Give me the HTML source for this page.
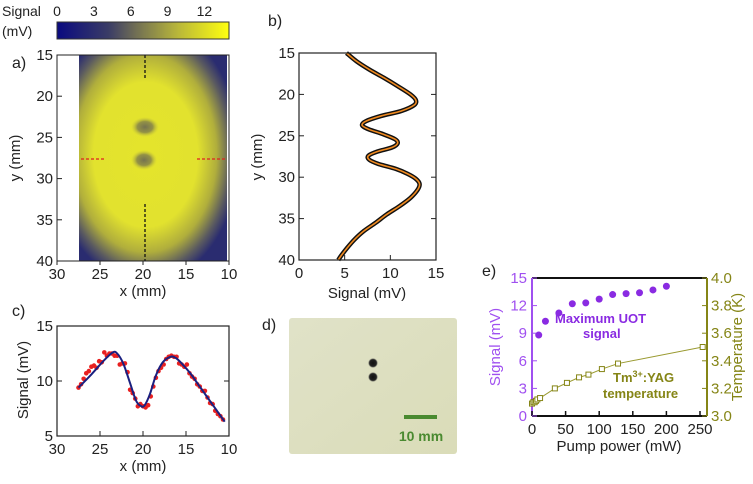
<!DOCTYPE html>
<html><head><meta charset="utf-8"><style>
body{margin:0;background:#fff;width:753px;height:479px;overflow:hidden;font-family:"Liberation Sans",sans-serif}
svg text{font-family:"Liberation Sans",sans-serif}
</style></head><body>
<svg id="fig" width="753" height="479" viewBox="0 0 753 479" xmlns="http://www.w3.org/2000/svg">
<defs>
<linearGradient id="cbar" x1="0" x2="1" y1="0" y2="0">
<stop offset="0" stop-color="#0a0a80"/><stop offset="0.3" stop-color="#3a3c66"/><stop offset="0.45" stop-color="#6e6c55"/><stop offset="0.7" stop-color="#b8b63a"/><stop offset="1" stop-color="#ffff10"/>
</linearGradient>
<radialGradient id="hm" cx="0.45" cy="0.47" r="0.64" fx="0.45" fy="0.5">
<stop offset="0" stop-color="#e4e42c"/><stop offset="0.55" stop-color="#e2e22e"/><stop offset="0.75" stop-color="#b0ae3c"/><stop offset="0.9" stop-color="#5a5a60"/><stop offset="1" stop-color="#2a2c70"/>
</radialGradient>
<radialGradient id="blob"><stop offset="0" stop-color="#747250"/><stop offset="0.55" stop-color="#85834a" stop-opacity="0.85"/><stop offset="1" stop-color="#c8c638" stop-opacity="0"/></radialGradient>
<radialGradient id="dot"><stop offset="0" stop-color="#111"/><stop offset="0.7" stop-color="#222"/><stop offset="1" stop-color="#555" stop-opacity="0"/></radialGradient>
<linearGradient id="photo" x1="0" y1="0" x2="1" y2="1"><stop offset="0" stop-color="#e0e2c8"/><stop offset="1" stop-color="#dadcb8"/></linearGradient>
</defs>

<g>
<text x="2" y="16" font-size="14" fill="#222">Signal</text>
<text x="2" y="36" font-size="14" fill="#222">(mV)</text>
<rect x="57" y="22" width="172" height="17" fill="url(#cbar)" stroke="#333" stroke-width="1"/>
<g id="cbticks" font-size="14" fill="#222" text-anchor="middle"></g>
</g>

<g>
<text x="12" y="68" font-size="16" fill="#222">a)</text>
<rect x="79" y="55" width="148" height="206" fill="url(#hm)"/>
<ellipse cx="145" cy="127" rx="14" ry="10" fill="url(#blob)"/>
<ellipse cx="144" cy="160" rx="13" ry="10" fill="url(#blob)"/>
<line x1="145" y1="55" x2="145" y2="79" stroke="#111" stroke-dasharray="3,2" stroke-width="1.3"/>
<line x1="145" y1="204" x2="145" y2="261" stroke="#111" stroke-dasharray="3,2" stroke-width="1.3"/>
<line x1="81" y1="159" x2="106" y2="159" stroke="#e02020" stroke-dasharray="3,2" stroke-width="1.3"/>
<line x1="197" y1="159" x2="226" y2="159" stroke="#e02020" stroke-dasharray="3,2" stroke-width="1.3"/>
<rect x="57" y="55" width="172" height="206" fill="none" stroke="#222" stroke-width="1"/>
<g id="axA"></g>
<text x="143" y="296" font-size="15" fill="#222" text-anchor="middle">x (mm)</text>
<text transform="translate(20,158) rotate(-90)" font-size="15" fill="#222" text-anchor="middle">y (mm)</text>
</g>

<g>
<text x="268" y="26" font-size="16" fill="#222">b)</text>
<g id="plotB"></g>
<rect x="299" y="53" width="137" height="207" fill="none" stroke="#222" stroke-width="1.2"/>
<text x="367" y="298" font-size="15" fill="#222" text-anchor="middle">Signal (mV)</text>
<text transform="translate(262,157) rotate(-90)" font-size="15" fill="#222" text-anchor="middle">y (mm)</text>
</g>

<g>
<text x="12" y="316" font-size="16" fill="#222">c)</text>
<g id="plotC"></g>
<rect x="57" y="326" width="172" height="110" fill="none" stroke="#222" stroke-width="1.2"/>
<text x="143" y="471" font-size="15" fill="#222" text-anchor="middle">x (mm)</text>
<text transform="translate(28,380) rotate(-90)" font-size="15" fill="#222" text-anchor="middle">Signal (mV)</text>
</g>

<g>
<text x="262" y="330" font-size="16" fill="#222">d)</text>
<rect x="289" y="318" width="168" height="136" rx="3" fill="url(#photo)"/>
<circle cx="373" cy="363" r="5" fill="url(#dot)"/>
<circle cx="373" cy="377" r="5" fill="url(#dot)"/>
<rect x="404" y="415" width="33" height="4" fill="#4a8a30"/>
<text x="421" y="441" font-size="14" font-weight="bold" fill="#4a8a30" text-anchor="middle">10 mm</text>
</g>

<g>
<text x="482" y="276" font-size="16" fill="#222">e)</text>
<g id="plotE"></g>
<text x="555" y="323" font-size="13" font-weight="bold" fill="#8a2be2">Maximum UOT</text>
<text x="583" y="338" font-size="13" font-weight="bold" fill="#8a2be2">signal</text>
<text x="613" y="382" font-size="13" font-weight="bold" fill="#858516">Tm<tspan font-size="9" dy="-5">3+</tspan><tspan dy="5">:YAG</tspan></text>
<text x="603" y="398" font-size="13" font-weight="bold" fill="#858516">temperature</text>
<text x="619" y="451" font-size="15" fill="#222" text-anchor="middle">Pump power (mW)</text>
<text transform="translate(500,347) rotate(-90)" font-size="15" fill="#a050f0" text-anchor="middle">Signal (mV)</text>
<text transform="translate(742,347) rotate(-90)" font-size="15" fill="#858516" text-anchor="middle">Temperature (K)</text>
</g>
</svg>
<script>
const cbTicks=[0,3,6,9,12];
const bY=[15,16,17,18,19,20,20.7,21.3,22,22.6,23.2,23.7,24.2,24.8,25.4,25.9,26.4,26.9,27.4,27.9,28.4,29,29.6,30.2,30.8,31.5,32.5,33.5,34.5,35.5,36.5,37.5,38.5,39.5,40];
const bSig=[5.2,6.3,7.7,9.3,10.8,12.2,12.8,12.6,11.2,9.0,7.4,6.9,7.6,9.2,10.5,10.8,10.2,8.6,7.6,7.7,8.7,10.6,11.9,12.8,13.2,13.0,12.2,11.0,9.6,8.4,7.1,6.1,5.3,4.6,4.3];
const cX=[27.5,26,24.5,23.5,23,22.3,21.5,20.8,20.2,19.8,19.2,18.5,17.7,16.8,16.2,15.5,14.5,13.5,12.5,11.5,10.5];
const cFit=[9.4,10.6,11.9,12.6,12.5,11.6,9.8,8.2,7.7,7.8,8.8,10.5,11.7,12.2,12.1,11.6,10.7,9.6,8.5,7.4,6.3];
const cDotsX=[27.5,27.2,26.9,26.6,26.3,26.0,25.7,25.4,25.1,24.8,24.5,24.2,23.9,23.6,23.3,23.0,22.7,22.4,22.1,21.8,21.5,21.2,20.9,20.6,20.3,20.0,19.7,19.4,19.1,18.8,18.5,18.2,17.9,17.6,17.3,17.0,16.7,16.4,16.1,15.8,15.5,15.2,14.9,14.6,14.3,14.0,13.7,13.4,13.1,12.8,12.5,12.2,11.9,11.6,11.3,11.0,10.7];
const cDotsY=[9.4,9.7,10.2,10.7,10.9,11.3,11.4,11.2,11.8,11.7,12.6,12.3,12.5,12.5,12.3,12.3,11.5,11.6,11.6,10.8,9.2,8.9,8.4,7.7,7.9,7.7,7.6,7.8,8.6,9.5,10.3,10.9,11.2,11.5,12.0,12.2,12.3,12.2,12.2,11.6,11.5,11.3,11.5,10.7,10.4,10.2,9.7,9.5,9.1,9.1,8.5,8.0,7.9,7.3,7.0,6.8,6.5];
const ePow=[10,20,40,60,80,100,120,140,160,180,200];
const eSig=[8.8,10.3,11.2,12.2,12.3,12.7,13.2,13.3,13.4,13.7,14.1];
const tPow=[0,2,4,6,8,12,34,52,70,84,104,128,254];
const tTemp=[3.09,3.10,3.10,3.11,3.12,3.13,3.20,3.24,3.28,3.30,3.34,3.38,3.50];
const xTicksMM=[30,25,20,15,10], yTicksMM=[15,20,25,30,35,40];
const bXTicks=[0,5,10,15], cYTicks=[5,10,15];
const eXTicks=[0,50,100,150,200,250], eYL=[0,3,6,9,12,15], eYR=[3.0,3.2,3.4,3.6,3.8,4.0];

const NS="http://www.w3.org/2000/svg";
function mk(tag,attrs,parent,txt){const e=document.createElementNS(NS,tag);for(const k in attrs)e.setAttribute(k,attrs[k]);if(txt!==undefined)e.textContent=txt;parent.appendChild(e);return e;}
const lin=(d0,d1,r0,r1)=>v=>r0+(v-d0)*(r1-r0)/(d1-d0);
function smooth(p){let d='M'+p[0][0]+','+p[0][1];
 for(let i=0;i<p.length-1;i++){const a=p[i-1]||p[i],b=p[i],c=p[i+1],e=p[i+2]||c;
  d+=' C'+(b[0]+(c[0]-a[0])/6)+','+(b[1]+(c[1]-a[1])/6)+' '+(c[0]-(e[0]-b[0])/6)+','+(c[1]-(e[1]-b[1])/6)+' '+c[0]+','+c[1];}
 return d;}

const cbx=lin(0,14,57,229);
const cbg=document.getElementById('cbticks');
cbTicks.forEach(t=>{const e=mk('text',{x:cbx(t),y:16},cbg,t);

});

function axes(g,xs,ys,xt,yt,x0,x1,y0,y1,inner,mid){
 xt.forEach(t=>{const x=xs(t);mk('line',{x1:x,x2:x,y1:y1,y2:inner?y1-5:y1+4,stroke:'#222'},g);
  const e=mk('text',{x:x,y:y1+18,'font-size':15,fill:'#222','text-anchor':'middle'},g,t);
  
  });
 yt.forEach(t=>{const y=ys(t);mk('line',{x1:x0,x2:x0+5,y1:y,y2:y,stroke:'#222'},g);
  if(mid)mk('line',{x1:x1,x2:x1-5,y1:y,y2:y,stroke:'#222'},g);
  const e=mk('text',{x:x0-4,y:y+5,'font-size':15,fill:'#222','text-anchor':'end'},g,t);
  
  });
}
const ax=lin(30,10,57,229), ay=lin(15,40,55,261);
axes(document.getElementById('axA'),ax,ay,xTicksMM,yTicksMM,57,229,55,261,false,false);

const bx=lin(0,15,299,436), by=lin(15,40,53,260);
const gB=document.getElementById('plotB');
axes(gB,bx,by,bXTicks,yTicksMM,299,436,53,260,true,true);
const bP=smooth(bY.map((y,i)=>[bx(bSig[i]),by(y)]));
const bd=mk('path',{d:bP,fill:'none',stroke:'#111','stroke-width':4.5,'stroke-linejoin':'round'},gB);


const bf=mk('path',{d:bP,fill:'none',stroke:'#f08a20','stroke-width':1.6},gB);



const cx=lin(30,10,57,229), cy=lin(5,15,436,326);
const gC=document.getElementById('plotC');
axes(gC,cx,cy,xTicksMM,cYTicks,57,229,326,436,true,true);
cDotsX.forEach((x,i)=>{const c=mk('circle',{cx:cx(x),cy:cy(cDotsY[i]),r:2.3,fill:'#e82020'},gC);

});
const cf=mk('path',{d:smooth(cX.map((x,i)=>[cx(x),cy(cFit[i])])),fill:'none',stroke:'#1a2080','stroke-width':2},gC);



const ex=lin(0,250,532,700), ey=lin(0,15,416,278), et=lin(3,4,416,278);
const gE=document.getElementById('plotE');
mk('line',{x1:532,x2:707,y1:278,y2:278,stroke:'#111','stroke-width':2},gE);
mk('line',{x1:532,x2:707,y1:416,y2:416,stroke:'#111','stroke-width':2},gE);
mk('line',{x1:532,x2:532,y1:278,y2:416,stroke:'#a050f0','stroke-width':2},gE);
mk('line',{x1:707,x2:707,y1:278,y2:416,stroke:'#858516','stroke-width':2},gE);
eXTicks.forEach(t=>{const x=ex(t);mk('line',{x1:x,x2:x,y1:416,y2:411,stroke:'#111','stroke-width':1.5},gE);
 const e=mk('text',{x:x,y:434,'font-size':15,fill:'#222','text-anchor':'middle'},gE,t);
 
 });
eYL.forEach(t=>{const y=ey(t);mk('line',{x1:532,x2:537,y1:y,y2:y,stroke:'#a050f0'},gE);
 const e=mk('text',{x:527,y:y+5,'font-size':15,fill:'#a050f0','text-anchor':'end'},gE,t);
 
 });
eYR.forEach(t=>{const y=et(t);mk('line',{x1:707,x2:702,y1:y,y2:y,stroke:'#858516'},gE);
 const e=mk('text',{x:711,y:y+5,'font-size':15,fill:'#858516'},gE,t.toFixed(1));
 
 });
const tl=mk('polyline',{points:tPow.map((p,i)=>ex(p)+','+et(tTemp[i])).join(' '),fill:'none',stroke:'#9a9a30','stroke-width':1},gE);


tPow.forEach((p,i)=>{const r=mk('rect',{x:ex(p)-2.5,y:et(tTemp[i])-2.5,width:5,height:5,fill:'#fff',stroke:'#858516','stroke-width':1},gE);
 
 });
ePow.forEach((p,i)=>{const c=mk('circle',{cx:ex(p),cy:ey(eSig[i]),r:3.5,fill:'#8a2be2'},gE);
 
 });
</script>
</body></html>
